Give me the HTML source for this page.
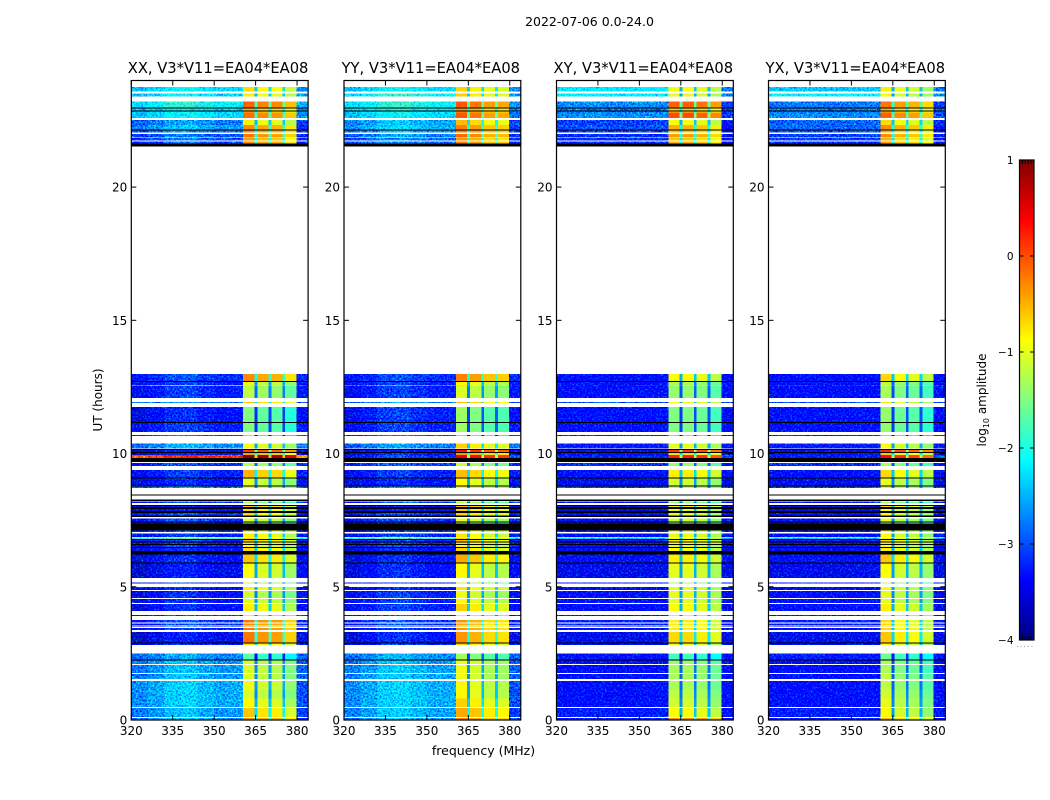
<!DOCTYPE html>
<html>
<head>
<meta charset="utf-8">
<title>2022-07-06 amplitude waterfall</title>
<style>
html,body{margin:0;padding:0;background:#fff;}
svg{display:block;}
text{font-family:"DejaVu Sans","Liberation Sans",sans-serif;fill:#000;}
</style>
</head>
<body>
<svg id="chart" xmlns="http://www.w3.org/2000/svg" width="1050" height="800" viewBox="0 0 1050 800">
  <defs>
    <linearGradient id="jetGradient" x1="0" y1="1" x2="0" y2="0"></linearGradient>
    <filter id="speckle" x="0" y="0" width="1050" height="800" filterUnits="userSpaceOnUse" color-interpolation-filters="sRGB">
      <feTurbulence type="fractalNoise" baseFrequency="0.55" numOctaves="2" seed="7" result="n"/>
      <feColorMatrix in="n" type="matrix" values="0 0 0 0 0.4  1.6 0 0 0 -0.4  0 0 0 0 0.4  0 0 0 0 1" result="g"/>
      <feComposite in="SourceGraphic" in2="g" operator="arithmetic" k1="0" k2="1" k3="1" k4="-0.4" result="m"/>
      <feComposite in="m" in2="SourceAlpha" operator="in"/>
    </filter>
  </defs>
  <text x="589.5" y="26" font-size="12.5" text-anchor="middle">2022-07-06 0.0-24.0</text>
  <text x="0" y="0" font-size="12" text-anchor="middle" transform="translate(102,400) rotate(-90)">UT (hours)</text>
  <text x="483.5" y="755" font-size="12.5" text-anchor="middle">frequency (MHz)</text>
  <text x="0" y="0" font-size="12" text-anchor="middle" transform="translate(986,400) rotate(-90)">log<tspan font-size="8" dy="3">10</tspan><tspan dy="-3"> amplitude</tspan></text>
  <g id="panels"></g>
  <g id="colorbar"></g>
</svg>
<script>
/* ---------- data ---------- */
const panelLabels = ['XX', 'YY', 'XY', 'YX'];
const baselineLabel = 'V3*V11=EA04*EA08';
const xTickValues = [320, 335, 350, 365, 380];
const yTickValues = [0, 5, 10, 15, 20];
const colorTickValues = [-4, -3, -2, -1, 0, 1];

/* frequency channel edges, MHz */
const channelEdges = [320, 326, 332, 338, 344, 350, 355, 360.5, 364.6, 365.6, 369.7, 370.7, 374.7, 375.7, 379.8, 384];
/* which per-row level each channel uses: L = low band, B = bright band, E = upper edge */
const channelZones = ['L', 'L', 'L', 'L', 'L', 'L', 'L', 'B', 'B', 'B', 'B', 'B', 'B', 'B', 'E'];

/* per-channel offsets (log10 amplitude) */
const xxGain = [-0.15, 0, 0.2, 0.25, 0.1, 0, 0.03, 0.2, -1.45, 0.05, -1.35, 0, -1.35, -0.25, 0];
const yyGain = [-0.15, 0, 0.2, 0.25, 0.12, 0.03, 0.03, 0.25, -1.45, 0.1, -1.35, -0.1, -1.3, -0.15, 0];
const xyGain = [0, 0.03, 0.03, 0, 0, 0.03, 0.03, 0.1, -1.5, 0.1, -1.4, 0, -1.4, -0.2, 0];
const yxGain = [0, 0.03, 0.03, 0, 0, 0.03, 0.03, 0.2, -1.5, 0, -1.4, -0.1, -1.4, -0.3, 0];

/* integrations: [top hour, bottom hour] */
const timeRows = [
[23.75,23.59],[23.52,23.40],[23.21,22.97],[22.97,22.80],[22.80,22.59],[22.51,22.33],[22.33,22.16],[22.12,22.04],[21.99,21.87],[21.84,21.75],[21.71,21.63],
[12.98,12.71],[12.71,12.58],[12.58,12.53],[12.53,12.09],[11.94,11.89],[11.74,11.18],[11.18,10.81],[10.69,10.65],[10.38,10.19],[10.15,10.06],[10.02,9.95],[9.94,9.83],
[9.64,9.53],[9.38,9.11],[9.09,8.81],[8.79,8.71],[8.20,8.15],[8.04,7.99],[7.91,7.85],[7.77,7.67],[7.56,7.45],[7.43,7.38],[7.12,7.05],[7.00,6.87],[6.85,6.80],[6.76,6.70],[6.66,6.60],[6.57,6.50],[6.48,6.34],
[6.22,5.92],[5.89,5.33],[5.16,5.12],[4.99,4.88],[4.85,4.58],[4.55,4.39],[4.35,4.10],[3.94,3.91],[3.75,3.65],[3.63,3.57],[3.55,3.50],[3.46,3.38],[3.30,2.91],[2.88,2.82],
[2.49,2.28],[2.25,2.10],[2.06,1.76],[1.73,1.53],[1.46,1.13],[1.13,0.80],[0.80,0.49],[0.45,0.11],[0.08,0.02]
];

/* fully-blanked (black) integrations: [top hour, bottom hour] */
const blackRows = [
[22.99,22.95],[22.87,22.83],[22.16,22.12],[21.63,21.52],[12.72,12.69],[11.19,11.16],[10.17,10.15],[10.05,10.02],[9.83,9.68],[9.10,9.08],[8.80,8.78],[8.46,8.43],[8.27,8.22],
[8.06,8.04],[7.99,7.91],[7.85,7.77],[7.67,7.62],[7.45,7.43],[7.38,7.12],[6.80,6.76],[6.70,6.66],[6.60,6.57],[6.50,6.48],[6.34,6.22],[5.92,5.89],[2.91,2.87],[2.28,2.25]
];

/* log10 amplitude per row: [low band, bright band, upper edge] */
const xxLevels = [
[-2.3,-0.9,-2.7],[-2.3,-1,-2.6],[-2.1,-0.3,-2.5],[-2.3,-0.7,-2.7],[-2.3,-0.35,-2.7],[-2.8,-1,-3.1],[-2.6,-0.5,-3.2],[-2.9,-0.5,-3.2],[-3,-0.4,-3.2],[-3,-0.6,-3.2],[-3.1,-0.5,-3.3],
[-3.2,-0.5,-3.2],[-3.3,-1.2,-3.3],[-2.3,-1,-3],[-3.3,-1.4,-3.3],[-2.8,-0.8,-3],[-3.4,-1.7,-3.4],[-3.3,-1.7,-3.3],[-3,-2,-3],[-2.7,-1.1,-2.7],[-3.6,-0.1,-3.6],[-3.5,-0.6,-3.5],[0.1,0.8,-0.4],
[-3.2,-1.4,-3.2],[-3.3,-0.7,-3.3],[-3.4,-1.2,-3.4],[-2.8,-1.2,-2.8],[-3.2,-1.5,-3.2],[-3.5,-0.8,-3.5],[-3.5,-0.9,-3.5],[-3.2,-0.9,-3.3],[-3.2,-1.2,-3.2],[-3.4,-1.5,-3.4],[-3.2,-1,-3.2],[-3.3,-1,-3.3],[-1.8,-0.9,-2.2],[-3.3,-0.8,-3.3],[-3.3,-1,-3.3],[-3.3,-1.1,-3.3],[-3.4,-0.9,-3.4],
[-3.4,-0.8,-3.4],[-3.5,-1.1,-3.4],[-3.3,-1.4,-3.3],[-3.4,-1,-3.4],[-3.4,-1.3,-3.4],[-3.4,-1.2,-3.4],[-3.4,-1,-3.4],[-3.2,-1.4,-3.2],[-3.2,-0.4,-3.3],[-3.2,-0.5,-3.3],[-3.2,-0.5,-3.3],[-3.3,-0.4,-3.3],[-3.5,-0.4,-3.5],[-3.3,-0.9,-3.3],
[-2.75,-1.9,-2.9],[-2.65,-1.3,-2.9],[-2.65,-1.25,-2.9],[-2.65,-1.25,-2.9],[-2.55,-1.15,-3],[-2.55,-1.25,-3],[-2.55,-1.05,-3],[-2.65,-0.8,-3.1],[-2.65,-0.5,-3.1]
];
const yyLevels = [
[-2.3,-0.9,-2.7],[-2.1,-0.9,-2.6],[-2.1,-0.3,-2.6],[-2.2,-0.6,-2.7],[-2.3,-0.3,-2.8],[-2.6,-0.8,-3],[-2.5,-0.5,-3.1],[-2.7,-0.5,-3.1],[-2.8,-0.4,-3.1],[-2.9,-0.6,-3.2],[-2.9,-0.5,-3.2],
[-3.2,-0.5,-3.2],[-3.3,-1.1,-3.3],[-2.6,-1,-3],[-3.3,-1.3,-3.3],[-2.8,-0.8,-3],[-3.3,-1.6,-3.4],[-3.3,-1.6,-3.3],[-3,-2,-3],[-2.8,-0.9,-2.8],[-3.5,0.05,-3.4],[-3.4,-0.6,-3.5],[-3.2,0.25,-3],
[-3.1,-1.4,-3.2],[-3.3,-0.8,-3.3],[-3.4,-1.1,-3.4],[-2.9,-1.2,-2.9],[-3.2,-1.5,-3.2],[-3.5,-0.8,-3.5],[-3.5,-0.9,-3.5],[-3.2,-0.9,-3.3],[-3.2,-1.2,-3.2],[-3.4,-1.5,-3.4],[-3.2,-1,-3.2],[-3.3,-1,-3.3],[-1.9,-0.9,-2.3],[-3.3,-0.8,-3.3],[-3.3,-1,-3.3],[-3.3,-1.1,-3.3],[-3.4,-0.9,-3.4],
[-3.4,-0.7,-3.4],[-3.4,-1.1,-3.4],[-3.3,-1.4,-3.3],[-3.4,-1,-3.4],[-3.3,-1.2,-3.4],[-3.3,-1.1,-3.4],[-3.3,-0.9,-3.4],[-3.2,-1.4,-3.2],[-3.2,-0.6,-3.3],[-3.2,-0.7,-3.3],[-3.2,-0.7,-3.3],[-3.3,-0.6,-3.3],[-3.4,-0.6,-3.5],[-3.3,-0.9,-3.3],
[-2.7,-1.6,-2.9],[-2.65,-1.2,-2.9],[-2.6,-1.2,-2.9],[-2.6,-1.2,-2.9],[-2.55,-1.1,-3],[-2.55,-1.1,-3],[-2.55,-0.9,-3],[-2.6,-0.7,-3.1],[-2.65,-0.5,-3.1]
];
const xyLevels = [
[-2.2,-1,-2.8],[-2.2,-1.1,-2.8],[-2.7,-0.2,-3.1],[-2.8,-0.7,-3.1],[-2.7,-0.1,-3.1],[-3.1,-1,-3.3],[-3,-0.6,-3.4],[-3.1,-0.7,-3.4],[-3.2,-0.5,-3.4],[-3.2,-0.7,-3.4],[-3.2,-0.6,-3.4],
[-3.4,-1,-3.4],[-3.4,-1.4,-3.4],[-3.2,-1.2,-3.2],[-3.4,-1.5,-3.4],[-3,-1,-3.1],[-3.4,-1.6,-3.4],[-3.4,-1.6,-3.4],[-3.2,-2,-3.2],[-3.3,-1.1,-3.3],[-3.5,0,-3.5],[-3.4,-0.8,-3.6],[-3.3,0.15,-3],
[-3.2,-1.5,-3.3],[-3.4,-0.9,-3.4],[-3.5,-1.2,-3.5],[-3.1,-1.3,-3.1],[-3.4,-1.5,-3.4],[-3.6,-0.9,-3.6],[-3.6,-1.1,-3.6],[-3.4,-1.1,-3.4],[-3.4,-1.2,-3.4],[-3.5,-1.5,-3.5],[-3.3,-1.1,-3.3],[-3.4,-1.1,-3.4],[-2.4,-1,-2.6],[-3.4,-0.9,-3.4],[-3.4,-1,-3.4],[-3.4,-1.1,-3.4],[-3.5,-1,-3.5],
[-3.4,-0.9,-3.4],[-3.5,-1.1,-3.5],[-3.3,-1.4,-3.3],[-3.5,-1.1,-3.5],[-3.4,-1.1,-3.5],[-3.4,-1.1,-3.5],[-3.4,-1,-3.5],[-3.3,-1.3,-3.3],[-3.3,-0.9,-3.4],[-3.3,-0.9,-3.4],[-3.3,-0.9,-3.4],[-3.4,-0.9,-3.4],[-3.5,-0.8,-3.5],[-3.4,-1.1,-3.4],
[-3.4,-1.9,-3.4],[-3.4,-1.5,-3.4],[-3.4,-1.4,-3.4],[-3.4,-1.4,-3.4],[-3.4,-1.4,-3.4],[-3.4,-1.3,-3.4],[-3.4,-1.2,-3.4],[-3.3,-1,-3.4],[-3.3,-0.4,-3.4]
];
const yxLevels = [
[-2.4,-1,-2.8],[-2.1,-1.1,-2.7],[-2.8,-0.4,-3.1],[-2.8,-0.7,-3],[-2.7,-0.3,-3],[-2.9,-0.9,-3.2],[-2.9,-0.5,-3.3],[-3,-0.7,-3.3],[-3.1,-0.5,-3.3],[-3.1,-0.7,-3.3],[-3.2,-0.6,-3.3],
[-3.4,-0.9,-3.4],[-3.4,-1.4,-3.4],[-3.2,-1.2,-3.2],[-3.4,-1.5,-3.4],[-3,-1,-3.1],[-3.4,-1.6,-3.4],[-3.4,-1.6,-3.4],[-3.2,-2,-3.2],[-3.3,-1.1,-3.3],[-3.5,0,-3.5],[-3.4,-0.8,-3.6],[-3.3,0.15,-3],
[-3.2,-1.5,-3.3],[-3.4,-0.9,-3.4],[-3.5,-1.2,-3.5],[-3.1,-1.3,-3.1],[-3.4,-1.5,-3.4],[-3.6,-0.9,-3.6],[-3.6,-1.1,-3.6],[-3.4,-1.1,-3.4],[-3.4,-1.2,-3.4],[-3.5,-1.5,-3.5],[-3.3,-1.1,-3.3],[-3.4,-1.1,-3.4],[-2.4,-1,-2.6],[-3.4,-0.9,-3.4],[-3.4,-1,-3.4],[-3.4,-1.1,-3.4],[-3.5,-1,-3.5],
[-3.4,-0.8,-3.4],[-3.5,-1.1,-3.5],[-3.3,-1.4,-3.3],[-3.5,-1.1,-3.5],[-3.4,-1.2,-3.5],[-3.4,-1.2,-3.5],[-3.4,-1,-3.5],[-3.3,-1.3,-3.3],[-3.3,-0.9,-3.4],[-3.3,-0.9,-3.4],[-3.3,-0.9,-3.4],[-3.4,-0.9,-3.4],[-3.5,-0.8,-3.5],[-3.4,-1.1,-3.4],
[-3.3,-1.8,-3.4],[-3.4,-1.5,-3.4],[-3.4,-1.5,-3.4],[-3.4,-1.4,-3.4],[-3.4,-1.4,-3.4],[-3.4,-1.3,-3.4],[-3.4,-1.2,-3.4],[-3.3,-1.1,-3.4],[-3.3,-0.7,-3.4]
];

/* ---------- layout ---------- */
const SVG_NS = 'http://www.w3.org/2000/svg';
const plotTop = 80.5, plotBottom = 720;
const plotWidth = 176.8;
const plotLefts = [131.3, 344, 556.5, 768.5];
const freqMin = 320, freqMax = 384, timeMin = 0, timeMax = 24;
const colorMin = -4, colorMax = 1;
const barLeft = 1019.5, barRight = 1034, barTop = 160, barBottom = 640;

function xScale(freq, left) {
  return left + (freq - freqMin) / (freqMax - freqMin) * plotWidth;
}
function yScale(hour) {
  return plotBottom - (hour - timeMin) / (timeMax - timeMin) * (plotBottom - plotTop);
}
function colorY(value) {
  return barBottom - (value - colorMin) / (colorMax - colorMin) * (barBottom - barTop);
}
function jet(value) {
  const t = Math.min(1, Math.max(0, (value - colorMin) / (colorMax - colorMin)));
  const ramp = function (c) {
    return Math.round(255 * Math.min(1, Math.max(0, 1.5 - Math.abs(4 * t - c))));
  };
  return 'rgb(' + ramp(3) + ',' + ramp(2) + ',' + ramp(1) + ')';
}
function make(tag, attrs, parent) {
  const el = document.createElementNS(SVG_NS, tag);
  Object.keys(attrs).forEach(function (k) { el.setAttribute(k, attrs[k]); });
  parent.appendChild(el);
  return el;
}

/* ---------- panels ---------- */
const panelsRoot = document.getElementById('panels');
const levelSets = [xxLevels, yyLevels, xyLevels, yxLevels];
const gainSets = [xxGain, yyGain, xyGain, yxGain];

panelLabels.forEach(function (label, p) {
  const left = plotLefts[p];
  const right = left + plotWidth;
  const group = make('g', {}, panelsRoot);
  
  

  const noisyCells = make('g', { filter: 'url(#speckle)' }, group);
  
  
  const brightCells = make('g', {}, group);
  
  

  timeRows.forEach(function (row, r) {
    channelZones.forEach(function (zone, c) {
      const levels = levelSets[p][r];
      const base = zone === 'L' ? levels[0] : zone === 'B' ? levels[1] : levels[2];
      const value = base + gainSets[p][c];
      const x0 = xScale(channelEdges[c], left);
      const x1 = xScale(channelEdges[c + 1], left);
      const y0 = yScale(row[0]);
      const y1 = yScale(row[1]);
      const cell = make('rect', {
        x: x0.toFixed(2), y: y0.toFixed(2),
        width: (x1 - x0).toFixed(2), height: Math.max(1, y1 - y0).toFixed(2),
        fill: jet(value), 'shape-rendering': 'crispEdges'
      }, zone === 'B' ? brightCells : noisyCells);
      
      
    });
  });

  blackRows.forEach(function (row) {
    const y0 = yScale(row[0]);
    const y1 = yScale(row[1]);
    const band = make('rect', {
      x: left.toFixed(2), y: y0.toFixed(2),
      width: plotWidth, height: Math.max(1, y1 - y0).toFixed(2),
      fill: '#000', 'shape-rendering': 'crispEdges'
    }, group);
    
    
  });

  const frame = make('rect', {
    x: left, y: plotTop, width: plotWidth, height: plotBottom - plotTop,
    fill: 'none', stroke: '#000', 'stroke-width': 1.2
  }, group);
  
  

  const title = make('text', {
    x: left + plotWidth / 2 - 1.6, y: 73, 'font-size': 14.7, 'text-anchor': 'middle'
  }, group);
  
  
  title.textContent = label + ', ' + baselineLabel;

  xTickValues.forEach(function (tick) {
    const x = xScale(tick, left);
    const bottomTick = make('line', { x1: x, x2: x, y1: plotBottom, y2: plotBottom - 5, stroke: '#000', 'stroke-width': 1 }, group);
    
    
    const topTick = make('line', { x1: x, x2: x, y1: plotTop, y2: plotTop + 5, stroke: '#000', 'stroke-width': 1 }, group);
    
    
    const tickText = make('text', { x: x, y: 735, 'font-size': 12, 'text-anchor': 'middle' }, group);
    
    
    tickText.textContent = String(tick);
  });

  yTickValues.forEach(function (tick) {
    const y = yScale(tick);
    const leftTick = make('line', { x1: left, x2: left + 5, y1: y, y2: y, stroke: '#000', 'stroke-width': 1 }, group);
    
    
    const rightTick = make('line', { x1: right, x2: right - 5, y1: y, y2: y, stroke: '#000', 'stroke-width': 1 }, group);
    
    
    const tickText = make('text', { x: left - 4, y: y + 4.5, 'font-size': 12, 'text-anchor': 'end' }, group);
    
    
    tickText.textContent = String(tick);
  });
});

/* ---------- colorbar ---------- */
const gradient = document.getElementById('jetGradient');
for (let i = 0; i <= 40; i++) {
  const stopValue = colorMin + (colorMax - colorMin) * i / 40;
  make('stop', { offset: (i / 40).toFixed(3), 'stop-color': jet(stopValue) }, gradient);
}
const barRoot = document.getElementById('colorbar');
const barFill = make('rect', {
  x: barLeft, y: barTop, width: barRight - barLeft, height: barBottom - barTop,
  fill: 'url(#jetGradient)', stroke: '#000', 'stroke-width': 1.2
}, barRoot);



colorTickValues.forEach(function (tick) {
  const y = colorY(tick);
  const leftMark = make('line', { x1: barLeft, x2: barLeft + 4, y1: y, y2: y, stroke: '#000', 'stroke-width': 1 }, barRoot);
  
  
  const rightMark = make('line', { x1: barRight, x2: barRight - 4, y1: y, y2: y, stroke: '#000', 'stroke-width': 1 }, barRoot);
  
  
  const tickText = make('text', { x: 1013.5, y: y + 4, 'font-size': 10.5, 'text-anchor': 'end' }, barRoot);
  
  
  tickText.textContent = String(tick).replace('-', '\u2212');
});

[1, 2, 3, 4].forEach(function (n) {
  const x = barLeft + n * (barRight - barLeft) / 5;
  const topMark = make('line', { x1: x, x2: x, y1: barTop, y2: barTop + 4, stroke: '#000', 'stroke-width': 1 }, barRoot);
  
  
  const bottomMark = make('line', { x1: x, x2: x, y1: barBottom, y2: barBottom - 4, stroke: '#000', 'stroke-width': 1 }, barRoot);
  
  
});

const dots = make('line', {
  x1: 1017, x2: 1035, y1: 646.5, y2: 646.5, stroke: '#999', 'stroke-width': 1, 'stroke-dasharray': '1 2.6'
}, barRoot);


</script>
</body>
</html>
